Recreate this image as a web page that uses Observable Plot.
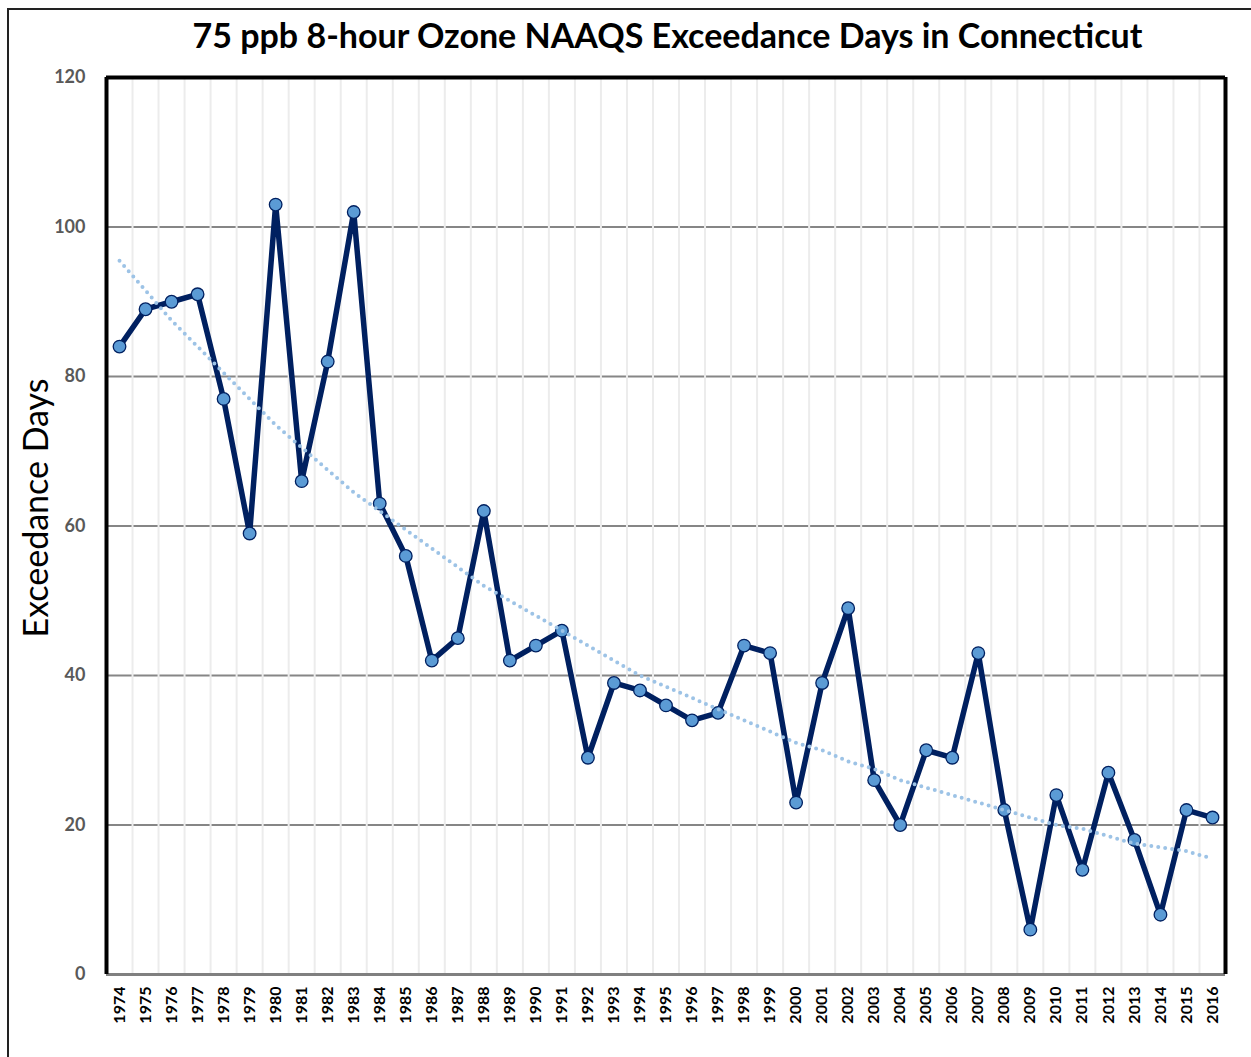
<!DOCTYPE html>
<html>
<head>
<meta charset="utf-8">
<script src="https://cdn.jsdelivr.net/npm/d3@7"></script>
<script src="https://cdn.jsdelivr.net/npm/@observablehq/plot@0.6"></script>
<style>
  html, body { margin: 0; padding: 0; background: #fff; }
  #wrap { position: relative; width: 1251px; height: 1057px; overflow: hidden; }
  #frame { position: absolute; left: 7px; top: 8px; width: 1400px; height: 1200px;
           border-left: 2px solid #222; border-top: 2px solid #222; box-sizing: border-box; }
  #title { position: absolute; left: 106px; width: 1123px; top: 14px; text-align: center;
           font-family: Lato, "Open Sans", sans-serif; font-weight: bold; font-size: 34px; color: #000; }
  #chart { position: absolute; left: 0; top: 0; }
</style>
</head>
<body>
<div id="wrap">
  <div id="frame"></div>
  <div id="title">75 ppb 8-hour Ozone NAAQS Exceedance Days in Connecticut</div>
  <div id="chart"></div>
</div>
<script>
const years = [1974,1975,1976,1977,1978,1979,1980,1981,1982,1983,1984,1985,1986,1987,1988,1989,1990,1991,1992,1993,1994,1995,1996,1997,1998,1999,2000,2001,2002,2003,2004,2005,2006,2007,2008,2009,2010,2011,2012,2013,2014,2015,2016];
const days = [84,89,90,91,77,59,103,66,82,102,63,56,42,45,62,42,44,46,29,39,38,36,34,35,44,43,23,39,49,26,20,30,29,43,22,6,24,14,27,18,8,22,21];
const trend = [95.5,91.5,87.5,84,80.5,77,73.5,70.5,67.5,64.5,62,59.5,57,54.5,52,50,48,46,44,42,40,38.5,37,35.5,34,32.5,31,30,28.5,27.5,26,25,24,23,22,21,20,19.5,18.5,17.5,17,16.5,15.5];
const yTicks = [0,20,40,60,80,100,120];

const data = years.map((yr, i) => ({year: yr, days: days[i], trend: trend[i]}));
const gridY = yTicks.filter(v => v > 0 && v < 120);
const bounds = years.slice(1).map(yr => yr - 0.5);
const x0 = years[0] - 0.5, x1 = years[years.length - 1] + 0.5;

const chart = Plot.plot({
  width: 1251,
  height: 1057,
  marginLeft: 106,
  marginRight: 26,
  marginTop: 77,
  marginBottom: 83,
  style: {fontFamily: "Lato, 'Open Sans', sans-serif", background: "transparent", overflow: "visible"},
  x: {domain: [x0, x1]},
  y: {domain: [0, 120]},
  marks: [
    Plot.ruleY(gridY, {stroke: "#868686", strokeWidth: 2}),
    Plot.ruleX(bounds, {stroke: "#ececec", strokeWidth: 2}),
    Plot.ruleY([0], {stroke: "#808080", strokeWidth: 3}),
    Plot.ruleY([120], {stroke: "#000", strokeWidth: 4}),
    Plot.ruleX([x0, x1], {stroke: "#000", strokeWidth: 4}),
    Plot.line(data, {x: "year", y: "days", stroke: "#002060", strokeWidth: 5.5, strokeLinejoin: "round"}),
    Plot.dot(data, {x: "year", y: "days", r: 6.3, fill: "#5b9bd5", stroke: "#002060", strokeWidth: 1.3}),
    Plot.line(data, {x: "year", y: "trend", stroke: "#9dc3e6", strokeWidth: 4, strokeDasharray: "0 7", strokeLinecap: "round"}),
    Plot.axisX(years, {tickRotate: -90, tickSize: 0, tickPadding: 12, fontWeight: "bold", fontSize: 16, fill: "#000", tickFormat: d => String(d), label: null}),
    Plot.axisY(yTicks, {tickSize: 0, tickPadding: 21, fontWeight: "bold", fontSize: 18, fill: "#595959", label: null}),
    Plot.text(["Exceedance Days"], {frameAnchor: "left", textAnchor: "middle", rotate: -90, dx: -69, dy: -18, fontSize: 34, fill: "#000"})
  ]
});
document.getElementById("chart").appendChild(chart);
</script>
</body>
</html>
